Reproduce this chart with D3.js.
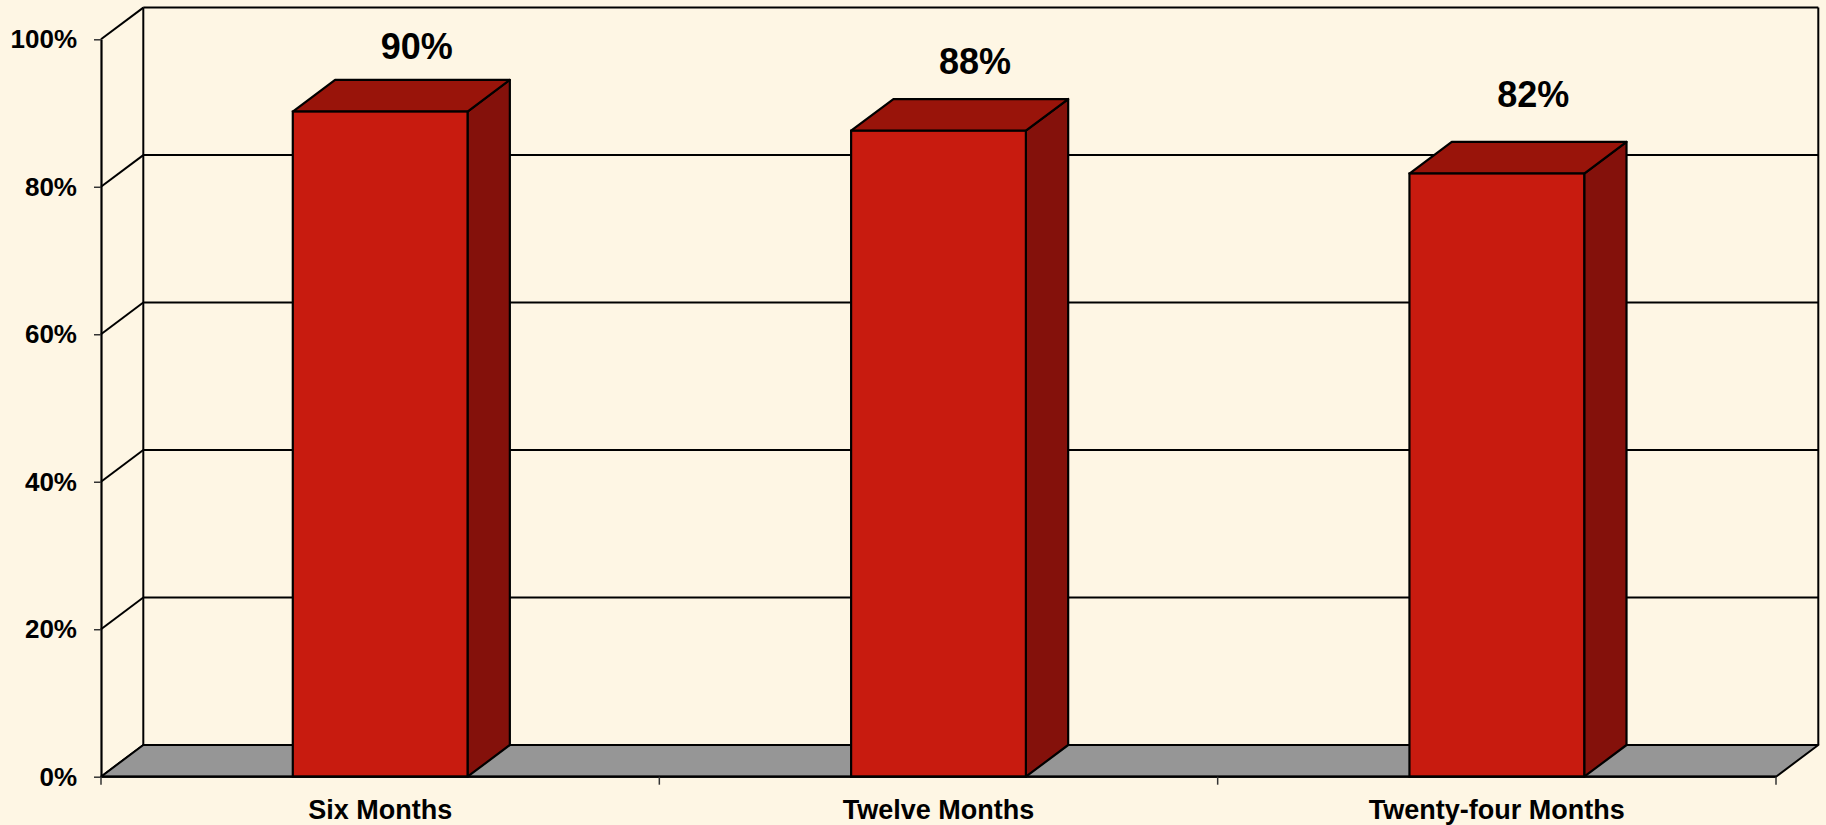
<!DOCTYPE html>
<html><head><meta charset="utf-8">
<script src="https://cdn.jsdelivr.net/npm/d3@7"></script>
<style>html,body{margin:0;padding:0;background:#FEF6E4;}svg{display:block}</style>
</head><body><svg id="c" width="1826" height="825"></svg>
<script>
const categories = ["Six Months", "Twelve Months", "Twenty-four Months"];
const values = [90.2, 87.6, 81.8];
const yTicks = [0, 20, 40, 60, 80, 100];

(function () {
const W = 1826, H = 825;
const svg = d3.select("#c");
const plotLeft = 101, plotRight = 1776, plotBottom = 776.7, plotTop = 39.3;
const DX = 42.3, DY = 31.7;
const y = d3.scaleLinear().domain([0, 100]).range([plotBottom, plotTop]);
const x = d3.scaleBand().domain(categories).range([plotLeft, plotRight]).padding(0);
const bw = x.bandwidth();
const barW = bw * 0.313;
const labelY = d3.scaleLinear().domain([0, 100]).range([582.2, 1.8]);
const font = "'Liberation Sans', Arial, Helvetica, sans-serif";
const ink = "#000";
const bg = "#FEF6E4";

svg.append("rect").attr("width", W).attr("height", H).attr("fill", bg);

// back wall gridlines (incl. top border)
svg.append("g").selectAll("line").data(yTicks.filter(d => d > 0)).join("line")
  .attr("x1", plotLeft + DX).attr("x2", plotRight + DX)
  .attr("y1", d => y(d) - DY).attr("y2", d => y(d) - DY)
  .attr("stroke", ink).attr("stroke-width", 2);

// left wall diagonals
svg.append("g").selectAll("line").data(yTicks).join("line")
  .attr("x1", plotLeft).attr("y1", d => y(d))
  .attr("x2", plotLeft + DX).attr("y2", d => y(d) - DY)
  .attr("stroke", ink).attr("stroke-width", 2);

// wall verticals
[plotLeft + DX, plotRight + DX].forEach(xx => {
  svg.append("line").attr("x1", xx).attr("x2", xx)
    .attr("y1", y(100) - DY).attr("y2", y(0) - DY)
    .attr("stroke", ink).attr("stroke-width", 2);
});

// floor
const floorPts = [[plotLeft, y(0)], [plotRight, y(0)], [plotRight + DX, y(0) - DY], [plotLeft + DX, y(0) - DY]];
svg.append("polygon").attr("points", floorPts.map(p => p.join(",")).join(" "))
  .attr("fill", "#969696").attr("stroke", ink).attr("stroke-width", 2).attr("stroke-linejoin", "round");

// bars
const bars = svg.append("g");
categories.forEach((c, i) => {
  const v = values[i];
  const x0 = x(c) + (bw - barW) / 2, x1 = x0 + barW;
  const yt = y(v), yb = y(0);
  const side = [[x1, yt], [x1 + DX, yt - DY], [x1 + DX, yb - DY], [x1, yb]];
  const topF = [[x0, yt], [x0 + DX, yt - DY], [x1 + DX, yt - DY], [x1, yt]];
  bars.append("polygon").attr("points", side.map(p => p.join(",")).join(" "))
    .attr("fill", "#84110B").attr("stroke", ink).attr("stroke-width", 2.2).attr("stroke-linejoin", "round");
  bars.append("polygon").attr("points", topF.map(p => p.join(",")).join(" "))
    .attr("fill", "#99140A").attr("stroke", ink).attr("stroke-width", 2.2).attr("stroke-linejoin", "round");
  bars.append("rect").attr("x", x0).attr("y", yt).attr("width", barW).attr("height", yb - yt)
    .attr("fill", "#C81B0F").attr("stroke", ink).attr("stroke-width", 2.2);
});

// front floor edge
svg.append("line").attr("x1", plotLeft).attr("x2", plotRight).attr("y1", y(0)).attr("y2", y(0))
  .attr("stroke", ink).attr("stroke-width", 2.2);

// y axis
const yAxis = svg.append("g").attr("transform", `translate(${plotLeft},0)`)
  .call(d3.axisLeft(y).tickValues(yTicks).tickSize(7).tickSizeOuter(0).tickPadding(17).tickFormat(d => d + "%"));
yAxis.attr("font-family", font);
yAxis.select(".domain").attr("stroke", ink).attr("stroke-width", 2.2);
yAxis.selectAll(".tick line").attr("stroke", "#333").attr("stroke-width", 1.5);
yAxis.selectAll("text").attr("font-family", font).attr("font-size", 26).attr("font-weight", "bold").attr("fill", ink);

// x axis ticks at band boundaries
const bounds = [plotLeft].concat(categories.map(c => x(c) + bw));
svg.append("g").selectAll("line").data(bounds).join("line")
  .attr("x1", d => d).attr("x2", d => d).attr("y1", y(0)).attr("y2", y(0) + 8)
  .attr("stroke", "#333").attr("stroke-width", 1.5);

// x labels
svg.append("g").selectAll("text").data(categories).join("text")
  .attr("x", d => x(d) + bw / 2).attr("y", 819)
  .attr("text-anchor", "middle").attr("font-family", font).attr("font-size", 27)
  .attr("font-weight", "bold").attr("fill", ink).text(d => d);

// value labels
const fmt = d3.format(".0f");
svg.append("g").selectAll("text").data(values).join("text")
  .attr("x", (d, i) => x(categories[i]) + bw / 2 + 36.5).attr("y", d => labelY(d))
  .attr("text-anchor", "middle").attr("font-family", font).attr("font-size", 36)
  .attr("font-weight", "bold").attr("fill", ink).text(d => fmt(d) + "%");
})();
</script></body></html>
